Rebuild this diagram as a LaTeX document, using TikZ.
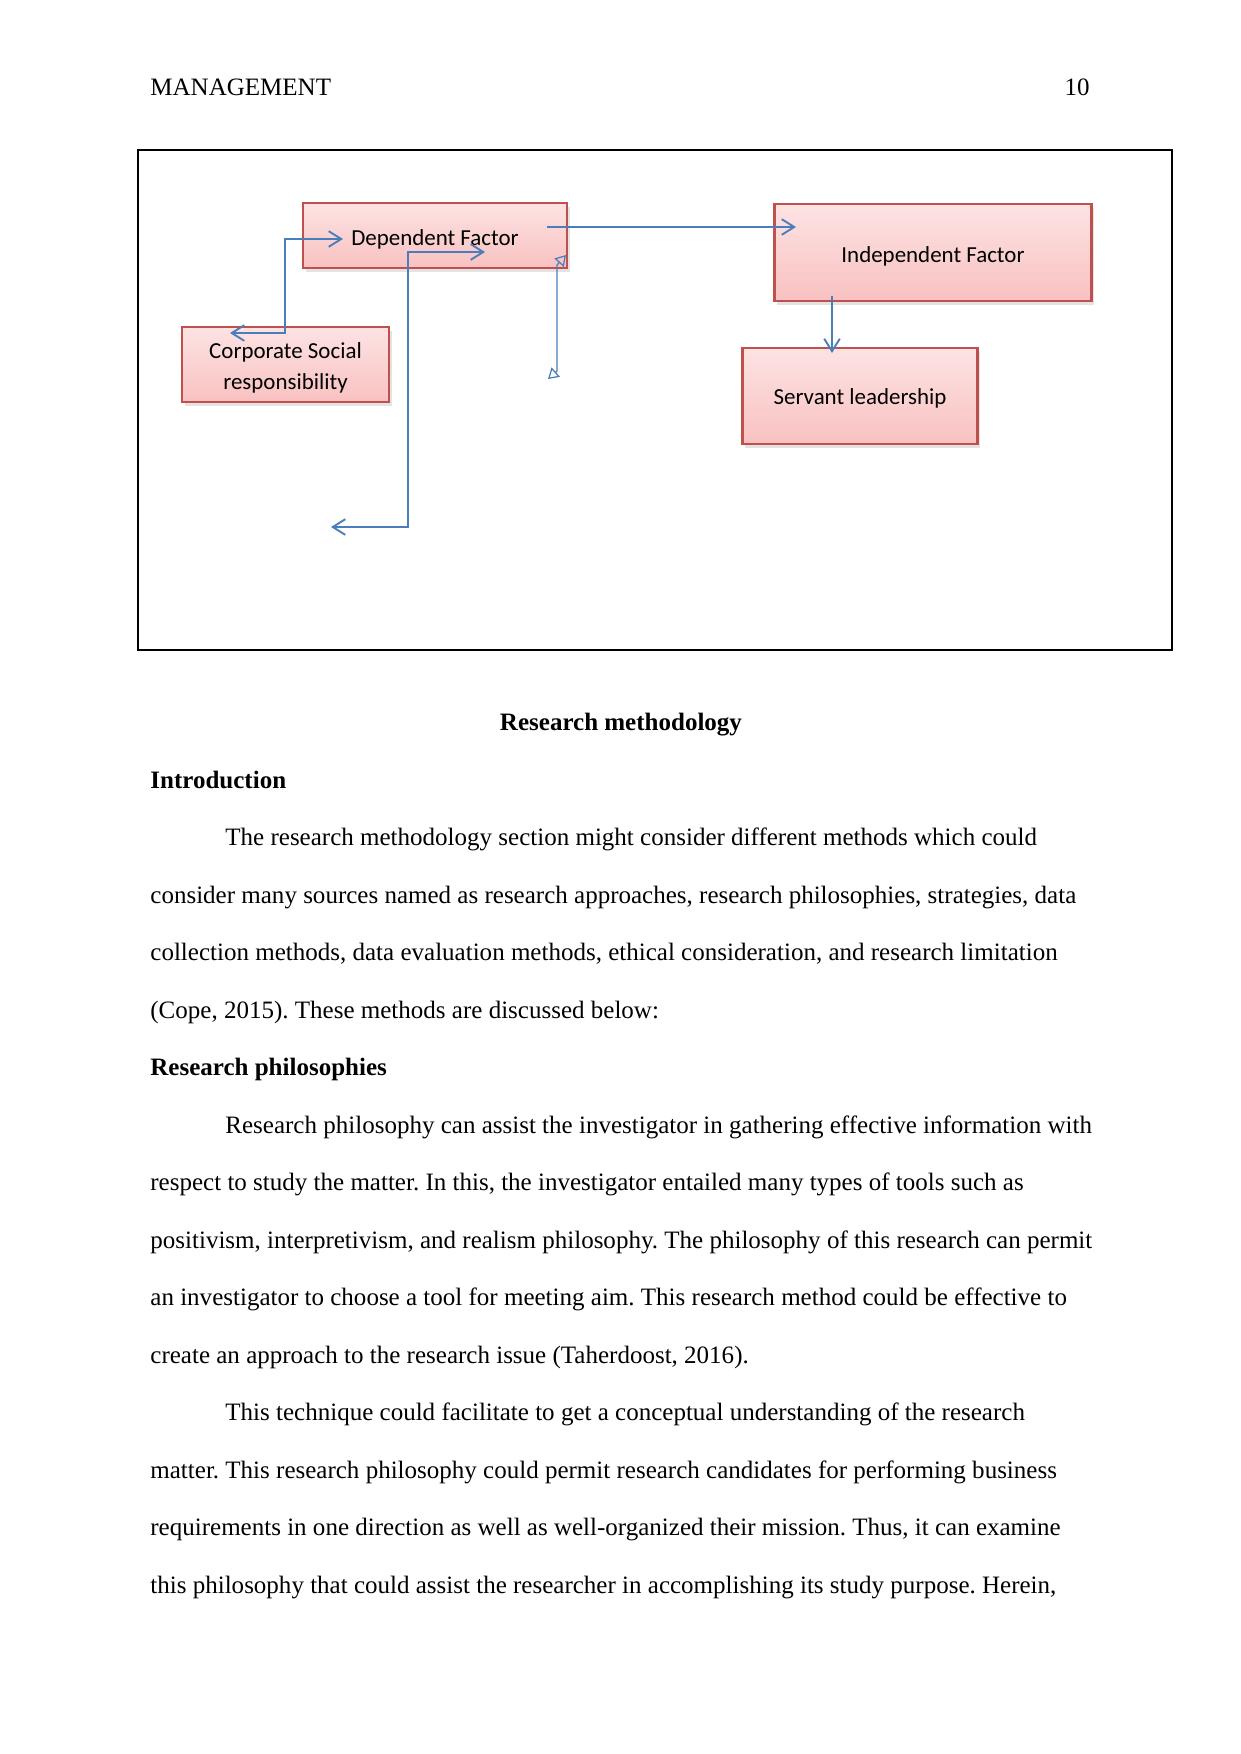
\documentclass[tikz,border=0pt]{standalone}
\usepackage{fontspec}
\setmainfont{Liberation Serif}
\newfontfamily\carlito{Carlito}
\frenchspacing
\usetikzlibrary{arrows.meta,shadows}
\definecolor{boxred}{HTML}{C0504D}
\definecolor{pinktop}{HTML}{FDE3E3}
\definecolor{pinkbot}{HTML}{F9C1C1}
\definecolor{linkblue}{HTML}{4A7EBB}
\newcommand\pxu{0.4797pt}
\tikzset{
  pinkbox/.style={draw=boxred, line width=1.1pt, top color=pinktop, bottom color=pinkbot,
    drop shadow={opacity=0.22, shadow xshift=1.2pt, shadow yshift=-2pt},
    inner sep=0pt},
  boxtext/.style={inner sep=0pt, align=center, font=\carlito\fontsize{11}{15}\selectfont},
  link/.style={draw=linkblue, line width=0.9pt,
    arrows={Straight Barb[length=6pt,width=7.5pt,line width=0.9pt]-Straight Barb[length=6pt,width=7.5pt,line width=0.9pt]}},
  onelink/.style={draw=linkblue, line width=0.9pt,
    arrows={-Straight Barb[length=6pt,width=7.5pt,line width=0.9pt]}},
  thinlink/.style={draw=linkblue, line width=0.6pt,
    arrows={Triangle[open,length=5pt,width=6pt,line width=0.6pt]-Triangle[open,length=5pt,width=6pt,line width=0.6pt]}},
  bodytext/.style={anchor=base west, inner sep=0pt, font=\fontsize{12}{14}\selectfont},
  headtext/.style={anchor=base west, inner sep=0pt, font=\bfseries\fontsize{12}{14}\selectfont},
}
\begin{document}
\begin{tikzpicture}[x=\pxu, y=-\pxu]
\useasboundingbox[fill=white] (0,0) rectangle (1241,1754);

% header
\node[bodytext] (hdr) at (150,96) {MANAGEMENT};
\node[bodytext, anchor=base east] (pg) at (1090,96) {10};

% frame
\draw[line width=0.6pt] (138,150) rectangle (1172,650);

% boxes
\node[pinkbox, minimum width={264*\pxu}, minimum height={65*\pxu}] (dep) at (435,235.5) {};
\node[pinkbox, minimum width={207*\pxu}, minimum height={75*\pxu}] (csr) at (285.5,364.5) {};
\node[pinkbox, minimum width={317*\pxu}, minimum height={97*\pxu}] (ind) at (933,252.5) {};
\node[pinkbox, minimum width={235*\pxu}, minimum height={96*\pxu}] (sl) at (860,396) {};

\node[boxtext] (deptxt) at ([yshift=-3.4*\pxu]dep.center) {Dependent Factor};
\node[boxtext] (csrtxt) at ([yshift=-3.4*\pxu]csr.center) {Corporate Social\\responsibility};
\node[boxtext] (indtxt) at ([yshift=-3.4*\pxu]ind.center) {Independent Factor};
\node[boxtext] (sltxt) at ([yshift=-2.5*\pxu]sl.center) {Servant leadership};

% connector end points
\coordinate (a1) at (230,333);
\coordinate (a2) at (343,239);
\coordinate (b1) at (485,252);
\coordinate (b2) at (331,527);
\coordinate (c1) at (547,227);
\coordinate (c2) at (796,227);
\coordinate (d1) at (566,255);
\coordinate (d2) at (548,379);
\coordinate (e1) at (832,296);
\coordinate (e2) at (832,353);

% connectors
\draw[link] (a1) -- (285,333) |- (a2);
\draw[link] (b1) -- (408,252) |- (b2);
\draw[onelink] (c1) -- (c2);
\draw[thinlink] (d1) -- (557,265) -- (557,371) -- (d2);
\draw[onelink] (e1) -- (e2);

% body text
\node[headtext, anchor=base] (t0) at (621,730) {Research methodology};
\node[headtext] (t1) at (150,788) {Introduction};
\node[bodytext] (l1) at (225,845.5) {The research methodology section might consider different methods which could};
\node[bodytext] (l2) at (150,903) {consider many sources named as research approaches, research philosophies, strategies, data};
\node[bodytext] (l3) at (150,960.5) {collection methods, data evaluation methods, ethical consideration, and research limitation};
\node[bodytext] (l4) at (150,1018) {(Cope, 2015). These methods are discussed below:};
\node[headtext] (t2) at (150,1075.5) {Research philosophies};
\node[bodytext] (l5) at (225,1133) {Research philosophy can assist the investigator in gathering effective information with};
\node[bodytext] (l6) at (150,1190.5) {respect to study the matter. In this, the investigator entailed many types of tools such as};
\node[bodytext] (l7) at (150,1248) {positivism, interpretivism, and realism philosophy. The philosophy of this research can permit};
\node[bodytext] (l8) at (150,1305.5) {an investigator to choose a tool for meeting aim. This research method could be effective to};
\node[bodytext] (l9) at (150,1363) {create an approach to the research issue (Taherdoost, 2016).};
\node[bodytext] (l10) at (225,1420.5) {This technique could facilitate to get a conceptual understanding of the research};
\node[bodytext] (l11) at (150,1478) {matter. This research philosophy could permit research candidates for performing business};
\node[bodytext] (l12) at (150,1535.5) {requirements in one direction as well as well-organized their mission. Thus, it can examine};
\node[bodytext] (l13) at (150,1593) {this philosophy that could assist the researcher in accomplishing its study purpose. Herein,};
\end{tikzpicture}
\end{document}
